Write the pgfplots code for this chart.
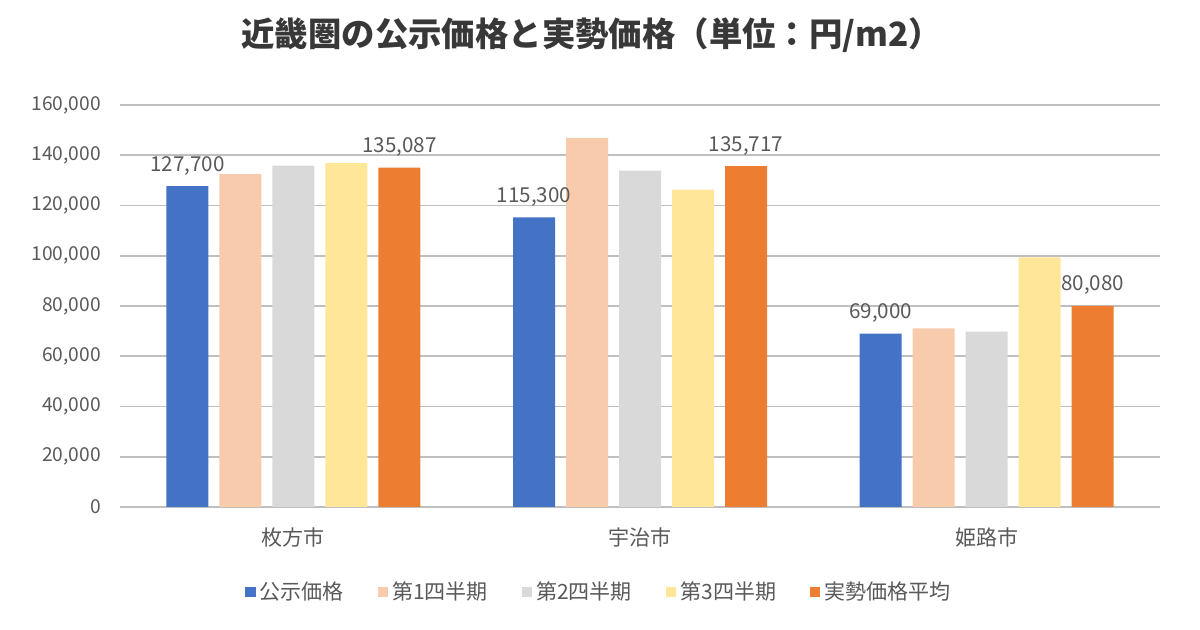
\documentclass[border=0pt]{standalone}
\usepackage{pgfplots}
\pgfplotsset{compat=1.18}
\usepackage{fontspec}
\setmainfont{Noto Sans CJK JP}
\definecolor{cBlue}{HTML}{4472C4}
\definecolor{cPeach}{HTML}{F8CBAD}
\definecolor{cGray}{HTML}{D9D9D9}
\definecolor{cYellow}{HTML}{FFE699}
\definecolor{cOrange}{HTML}{ED7D31}
\definecolor{txt}{HTML}{595959}
\definecolor{grid}{HTML}{D9D9D9}
\begin{document}
\begin{tikzpicture}
\useasboundingbox (0,0) rectangle (600pt,315pt);
\begin{axis}[
  at={(60pt,61.5pt)}, anchor=south west,
  scale only axis, width=520pt, height=201pt,
  ybar=5.5pt, bar width=21pt,
  xmin=-0.5, xmax=2.5, ymin=0, ymax=160000,
  xtick={0,1,2}, xticklabels={枚方市,宇治市,姫路市},
  ytick={0,20000,...,160000},
  scaled y ticks=false,
  /pgf/number format/fixed,
  /pgf/number format/precision=0,
  /pgf/number format/1000 sep={,},
  /pgf/number format/assume math mode=true,
  xmajorgrids=false, ymajorgrids, grid style={grid, line width=0.8pt},
  axis line style={draw=none},
  major tick length=0pt,
  xtick style={draw=none}, ytick style={draw=none},
  tick label style={text=txt},
  yticklabel style={font=\fontsize{9.6}{11}\selectfont, xshift=-6pt},
  xticklabel style={font=\fontsize{10.5}{12}\selectfont, yshift=-7pt},
  title={近畿圏の公示価格と実勢価格（単位：円/m2）},
  title style={at={(0.4538,1.144)}, anchor=center, yshift=0pt, font=\bfseries\fontsize{16.7}{19}\selectfont, text=black!78},
  legend columns=5,
  legend style={at={(0.4615,-0.211)}, anchor=center, draw=none, font=\fontsize{10.5}{12}\selectfont, text=txt,
    /tikz/every even column/.append style={column sep=15pt}},
  legend image code/.code={\fill[#1,draw=none] (0pt,-2.6pt) rectangle (5.2pt,2.6pt);},
  nodes near coords style={font=\fontsize{10.3}{12}\selectfont, text=txt, yshift=2pt},
]
\addplot[fill=cBlue, draw=none, nodes near coords] coordinates {(0,127700) (1,115300) (2,69000)};
\addplot[fill=cPeach, draw=none] coordinates {(0,132500) (1,146900) (2,71100)};
\addplot[fill=cGray, draw=none] coordinates {(0,135900) (1,133900) (2,69800)};
\addplot[fill=cYellow, draw=none] coordinates {(0,136900) (1,126350) (2,99300)};
\addplot[fill=cOrange, draw=none, nodes near coords] coordinates {(0,135087) (1,135717) (2,80080)};
\legend{公示価格,第1四半期,第2四半期,第3四半期,実勢価格平均}
\end{axis}
\end{tikzpicture}
\end{document}
